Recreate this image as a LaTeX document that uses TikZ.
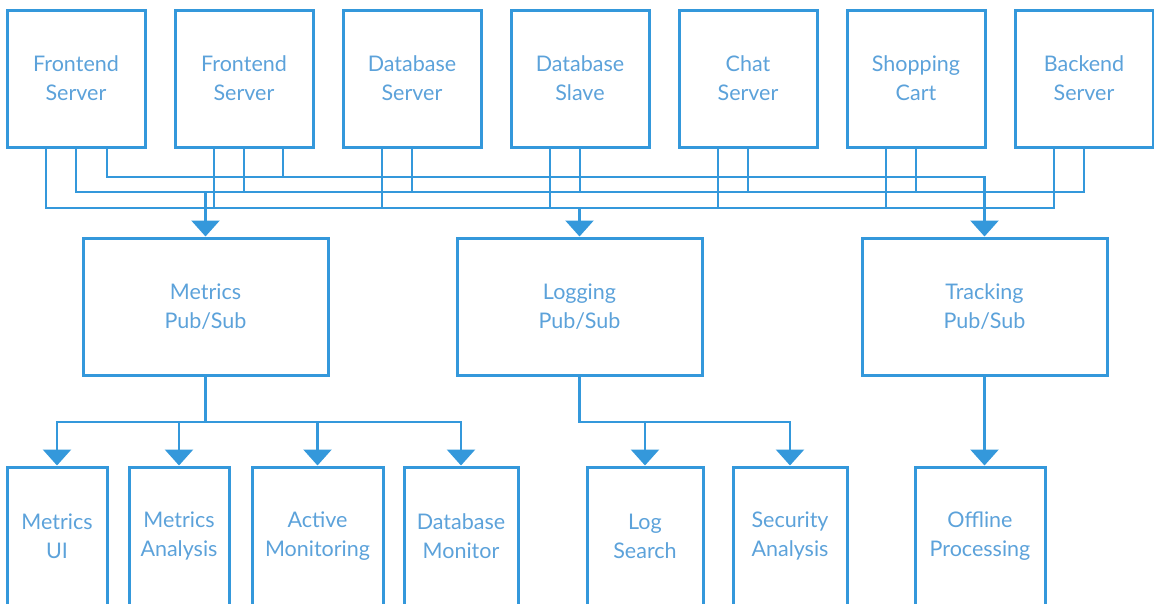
\documentclass[tikz,border=0pt]{standalone}
\usepackage{fontspec}
\setmainfont{Lato}
\usetikzlibrary{arrows.meta}
\definecolor{wireblue}{RGB}{52,152,219}
\definecolor{textblue}{RGB}{92,162,218}

\begin{document}
\begin{tikzpicture}[x=1pt,y=-1pt,
  box/.style={draw=wireblue,line width=3pt,text=textblue,align=center,
    font=\fontsize{21.5}{29}\selectfont,inner sep=0pt},
  srvbox/.style={box,minimum width=138pt,minimum height=137pt},
  pubbox/.style={box,minimum width=245pt,minimum height=137pt},
  appbox/.style={box,minimum height=138pt},
  wire/.style={draw=wireblue,line width=2.6pt},
  arr/.style={wire,-{Triangle[width=28pt,length=16pt]}}]
\useasboundingbox (0,0) rectangle (1154,603);
\clip (0,0) rectangle (1154,603);

\node[srvbox] (fe1) at (76,78.5) {Frontend\\Server};
\node[srvbox] (fe2) at (244,78.5) {Frontend\\Server};
\node[srvbox] (dbs) at (412,78.5) {Database\\Server};
\node[srvbox] (dbsl) at (580,78.5) {Database\\Slave};
\node[srvbox] (chat) at (748,78.5) {Chat\\Server};
\node[srvbox] (cart) at (916,78.5) {Shopping\\Cart};
\node[srvbox] (be) at (1084,78.5) {Backend\\Server};

\node[pubbox] (metrics) at (205.5,306.5) {Metrics\\Pub/Sub};
\node[pubbox] (logging) at (579.5,306.5) {Logging\\Pub/Sub};
\node[pubbox] (tracking) at (984.5,306.5) {Tracking\\Pub/Sub};

\node[appbox,minimum width=100pt] (mui) at (57,536) {Metrics\\UI};
\node[appbox,minimum width=100pt] (man) at (179,536) {Metrics\\Analysis};
\node[appbox,minimum width=131pt] (amon) at (317.5,536) {Active\\Monitoring};
\node[appbox,minimum width=114pt] (dbmon) at (461,536) {Database\\Monitor};
\node[appbox,minimum width=116pt] (logs) at (645,536) {Log\\Search};
\node[appbox,minimum width=114pt] (sec) at (790,536) {Security\\Analysis};
\node[appbox,minimum width=130pt] (off) at (980,536) {Offline\\Processing};

\coordinate (trkbus) at (0,177);
\coordinate (metbus) at (0,192);
\coordinate (logbus) at (0,208);
\coordinate (appbus) at (0,422);
\foreach \n in {fe1,fe2,dbs,dbsl,chat,cart,be}
  \coordinate (\n-l) at ([xshift=-30pt]\n.south);
\coordinate (fe1-r) at ([xshift=31pt]fe1.south);
\coordinate (fe2-r) at ([xshift=39pt]fe2.south);

% logging bus
\draw[wire] (fe1-l) |- (be-l |- logbus) -- (be-l);
\foreach \n in {fe2,dbs,dbsl,chat,cart}
  \draw[wire] (\n-l) -- (\n-l |- logbus);
\draw[arr] (logging.north |- logbus) -- (logging.north);

% metrics bus
\draw[wire] (fe1.south) |- (be.south |- metbus) -- (be.south);
\foreach \n in {fe2,dbs,dbsl,chat,cart}
  \draw[wire] (\n.south) -- (\n.south |- metbus);
\draw[arr] (metrics.north |- metbus) -- (metrics.north);

% tracking bus
\draw[arr] (fe1-r) |- (tracking.north |- trkbus) -- (tracking.north);
\draw[wire] (fe2-r) -- (fe2-r |- trkbus);

\foreach \n in {mui,man,amon,dbmon}
  \draw[arr] (metrics.south) -- (metrics.south |- appbus) -| (\n.north);
\foreach \n in {logs,sec}
  \draw[arr] (logging.south) -- (logging.south |- appbus) -| (\n.north);
\draw[arr] (tracking.south) -- (tracking.south |- off.north);
\end{tikzpicture}
\end{document}
